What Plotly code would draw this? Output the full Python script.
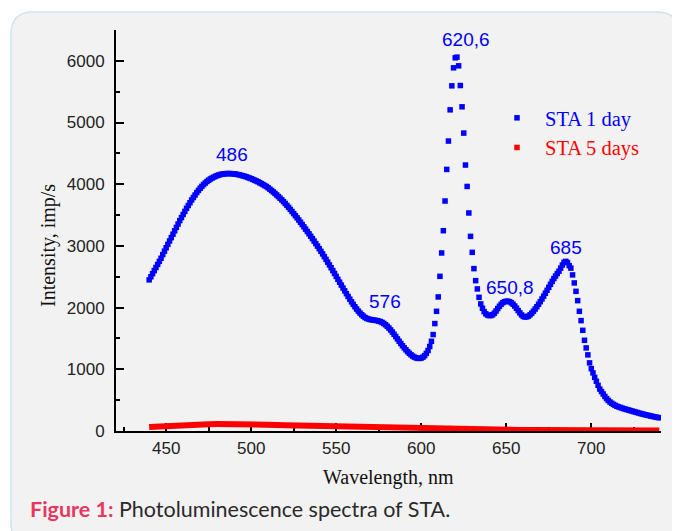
import plotly.graph_objects as go

# ---- data ----
wl_start = 440
sta1_values = [
    2450, 2500, 2550, 2600, 2650, 2700, 2750, 2800, 2860, 2915,   # 440-449
    2970, 3025, 3080, 3135, 3190, 3245, 3300, 3355, 3410, 3460,   # 450-459
    3510, 3560, 3610, 3655, 3700, 3745, 3785, 3825, 3865, 3900,   # 460-469
    3935, 3965, 3995, 4020, 4045, 4065, 4085, 4100, 4115, 4128,   # 470-479
    4140, 4150, 4158, 4164, 4168, 4171, 4173, 4173, 4172, 4170,   # 480-489
    4167, 4163, 4158, 4152, 4145, 4138, 4130, 4121, 4111, 4100,   # 490-499
    4090, 4078, 4066, 4053, 4040, 4025, 4010, 3994, 3978, 3962,   # 500-509
    3942, 3920, 3898, 3875, 3851, 3826, 3800, 3773, 3746, 3718,   # 510-519
    3688, 3657, 3625, 3592, 3558, 3524, 3490, 3455, 3420, 3384,   # 520-529
    3347, 3310, 3272, 3234, 3196, 3157, 3118, 3078, 3038, 2997,   # 530-539
    2955, 2913, 2870, 2826, 2782, 2737, 2692, 2646, 2600, 2553,   # 540-549
    2506, 2459, 2412, 2365, 2318, 2272, 2226, 2181, 2137, 2094,   # 550-559
    2053, 2014, 1977, 1943, 1912, 1884, 1860, 1840, 1825, 1814,   # 560-569
    1807, 1802, 1798, 1794, 1789, 1782, 1773, 1760, 1743, 1722,   # 570-579
    1697, 1669, 1638, 1604, 1568, 1531, 1493, 1455, 1418, 1382,   # 580-589
    1348, 1316, 1286, 1259, 1235, 1214, 1197, 1185, 1178, 1177,   # 590-599
    1183, 1197, 1222, 1258, 1305, 1370, 1454, 1563, 1741, 1940,   # 600-609
    2173, 2507, 2886, 3247, 3728, 4240, 4700, 5206, 5595, 5887,   # 610-619
    6049, 6060, 5919, 5600, 5255, 4829, 4311, 3964, 3534, 3155,   # 620-629
    2896, 2632, 2437, 2303, 2167, 2060, 1990, 1935, 1900, 1880,   # 630-639
    1870, 1872, 1885, 1910, 1945, 1985, 2022, 2055, 2080, 2095,   # 640-649
    2103, 2103, 2095, 2078, 2055, 2025, 1990, 1952, 1915, 1882,   # 650-659
    1858, 1848, 1850, 1862, 1883, 1910, 1942, 1977, 2014, 2054,   # 660-669
    2096, 2140, 2186, 2233, 2281, 2330, 2378, 2425, 2470, 2512,   # 670-679
    2552, 2590, 2640, 2690, 2735, 2750, 2730, 2680, 2640, 2530,   # 680-689
    2400, 2264, 2113, 1940, 1789, 1632, 1470, 1347, 1234, 1104,   # 690-699
    1010, 942, 870, 806, 740, 680, 640, 600, 560, 525,            # 700-709
    495, 470, 450, 432, 416, 402, 392, 382, 372, 363,             # 710-719
    355, 347, 339, 331, 323, 315, 307, 299, 291, 283,             # 720-729
    276, 269, 262, 256, 249, 243, 237, 231, 225, 220,             # 730-739
    214,                                                          # 740
]
sta1_wl = list(range(wl_start, wl_start + len(sta1_values)))

sta5_wl = list(range(440, 745, 5))
sta5_values = [
    65, 75, 85, 93, 100, 105, 108, 111, 112, 113,
    112, 110, 108, 105, 102, 99, 95, 92, 88, 84,
    80, 76, 72, 67, 62, 57, 52, 47, 42, 38,
    35, 32, 30, 28, 26, 25, 25, 24, 22, 21,
    20, 19, 18, 18, 17, 17, 16, 16, 16, 16,
    15, 14, 13, 13, 12, 12, 11, 11, 10, 10,
    10,
]

peak_labels = ["486", "576", "620,6", "650,8", "685"]
peak_label_x = [489, 578.5, 626.5, 652, 685]
peak_label_y = [4480, 2100, 6350, 2330, 2980]

x_ticks = [450, 500, 550, 600, 650, 700]
y_ticks = [0, 1000, 2000, 3000, 4000, 5000, 6000]

# ---- layout geometry (screen coords; page body has an 8px margin) ----
OFF = 8
W, H = 680 - OFF, 531 - OFF
ML, MR, MT, MB = 116 - OFF, 19, 30 - OFF, 100
PW, PH = W - ML - MR, H - MT - MB


def px(x):
    return (x - OFF - ML) / PW


def py(y):
    return (H - MB - (y - OFF)) / PH


BLUE = "#0000ff"
RED = "#ff0000"
SERIF = "Liberation Serif, Times New Roman, serif"
SANS = "Liberation Sans, Arial, sans-serif"

fig = go.Figure()

fig.add_trace(go.Scatter(
    x=sta5_wl, y=sta5_values, mode="lines",
    line=dict(color=RED, width=6), showlegend=False, hoverinfo="skip",
))
fig.add_trace(go.Scatter(
    x=sta1_wl, y=sta1_values, mode="markers",
    marker=dict(symbol="square", size=5.5, color=BLUE, line=dict(width=0)),
    name='<span style="color:#0000ff">STA 1 day</span>',
))
fig.add_trace(go.Scatter(
    x=[None], y=[None], mode="markers",
    marker=dict(symbol="square", size=5.5, color=RED, line=dict(width=0)),
    name='<span style="color:#ff0000">STA 5 days</span>',
))

for t, xx, yy in zip(peak_labels, peak_label_x, peak_label_y):
    fig.add_annotation(x=xx, y=yy, text=t, showarrow=False,
                       font=dict(family=SANS, size=19, color=BLUE),
                       xanchor="center", yanchor="middle")

# axis titles
fig.add_annotation(xref="paper", yref="paper", x=px(388), y=py(478),
                   text="Wavelength, nm", showarrow=False,
                   font=dict(family=SERIF, size=20, color="#111"),
                   xanchor="center", yanchor="middle")
fig.add_annotation(xref="paper", yref="paper", x=px(48), y=py(246),
                   text="Intensity, imp/s", showarrow=False, textangle=-90,
                   font=dict(family=SERIF, size=20, color="#111"),
                   xanchor="center", yanchor="middle")

# caption
fig.add_annotation(xref="paper", yref="paper", x=px(28), y=py(509),
                   text='<b><span style="color:#e8375f">Figure 1:</span></b> Photoluminescence spectra of STA.',
                   showarrow=False, font=dict(family="Lato, sans-serif", size=21.5, color="#2a2a2a"),
                   xanchor="left", yanchor="middle")

# rounded panel
x0, x1, y0, y1, r = px(11), px(679), py(12), py(545), 22
rx, ry = r / PW, r / PH
path = (f"M {x0+rx},{y0} L {x1-rx},{y0} Q {x1},{y0} {x1},{y0-ry} "
        f"L {x1},{y1+ry} Q {x1},{y1} {x1-rx},{y1} "
        f"L {x0+rx},{y1} Q {x0},{y1} {x0},{y1+ry} "
        f"L {x0},{y0-ry} Q {x0},{y0} {x0+rx},{y0} Z")
fig.add_shape(type="path", path=path, xref="paper", yref="paper", layer="below",
              fillcolor="#f2f2f2", line=dict(color="#cfe3f0", width=1.5))

fig.update_layout(
    width=W, height=H,
    margin=dict(l=ML, r=MR, t=MT, b=MB, pad=0),
    paper_bgcolor="white", plot_bgcolor="rgba(0,0,0,0)",
    font=dict(family=SANS, size=17, color="#222"),
    legend=dict(x=px(489), y=py(98), xanchor="left", yanchor="top",
                bgcolor="rgba(0,0,0,0)", font=dict(family=SERIF, size=20.5),
                itemwidth=46, tracegroupgap=0),
    showlegend=True,
)
fig.update_xaxes(
    range=[420.5, 741], showline=True, linecolor="black", linewidth=2,
    ticks="inside", ticklen=8, tickwidth=1.5, tickcolor="black",
    tickvals=x_ticks, showgrid=False, zeroline=False, layer="below traces",
    minor=dict(tickvals=[425, 475, 525, 575, 625, 675, 725], ticks="inside",
               ticklen=4, tickwidth=1.5, tickcolor="black", showgrid=False),
    tickfont=dict(family=SANS, size=17, color="#222"), ticklabelstandoff=1,
)
fig.update_yaxes(
    range=[0, 6500], showline=True, linecolor="black", linewidth=2,
    ticks="inside", ticklen=8, tickwidth=1.5, tickcolor="black",
    tickvals=y_ticks, showgrid=False, zeroline=False, layer="below traces",
    minor=dict(tickvals=[500, 1500, 2500, 3500, 4500, 5500, 6500], ticks="inside",
               ticklen=4, tickwidth=1.5, tickcolor="black", showgrid=False),
    tickfont=dict(family=SANS, size=17, color="#222"), ticklabelstandoff=6,
)

fig.write_html("out.html")
